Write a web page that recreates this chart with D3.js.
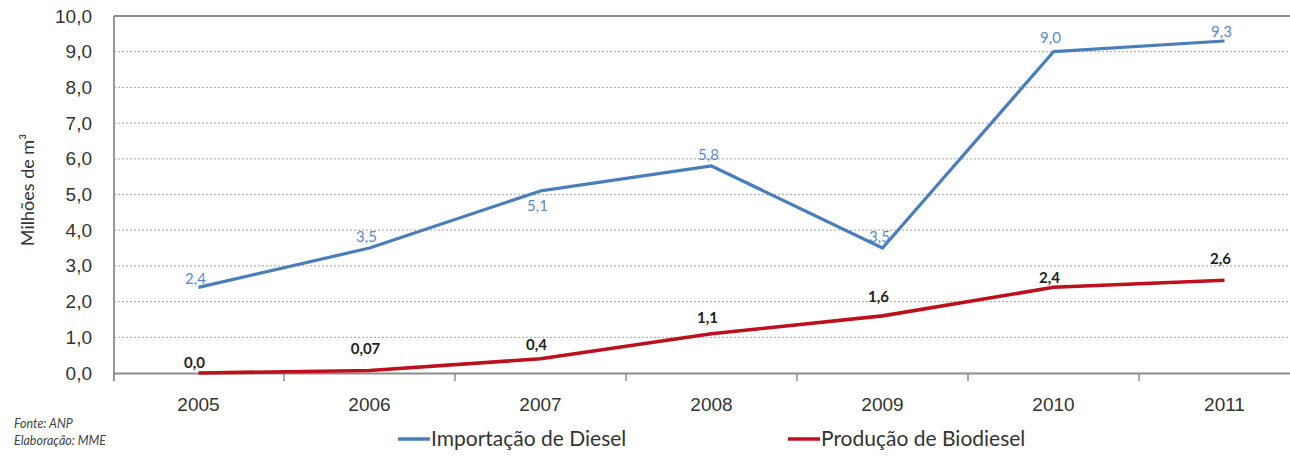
<!DOCTYPE html>
<html>
<head>
<meta charset="utf-8">
<script src="https://cdn.jsdelivr.net/npm/d3@7"></script>
<style>
  html, body { margin: 0; padding: 0; background: #fff; }
  svg { display: block; }
</style>
</head>
<body>
<script>
// Years on the category axis
const years = ["2005", "2006", "2007", "2008", "2009", "2010", "2011"];
// Diesel imports, millions of m³
const importacaoDiesel = [2.4, 3.5, 5.1, 5.8, 3.5, 9.0, 9.3];
// Biodiesel production, millions of m³
const producaoBiodiesel = [0.0, 0.07, 0.4, 1.1, 1.6, 2.4, 2.6];
// Printed value labels
const importacaoLabels = ["2,4", "3,5", "5,1", "5,8", "3,5", "9,0", "9,3"];
const producaoLabels = ["0,0", "0,07", "0,4", "1,1", "1,6", "2,4", "2,6"];
// Y axis ticks
const yTicks = [0, 1, 2, 3, 4, 5, 6, 7, 8, 9, 10];
const seriesNames = ["Importação de Diesel", "Produção de Biodiesel"];
const sourceLines = ["Fonte: ANP", "Elaboração: MME"];

// Vertical nudges for value labels (px, relative to the point)
const importacaoLabelDy = [-9, -11, 15, -11, -11, -14, -9];
const producaoLabelDy = [-10, -22, -14, -16, -19, -10, -21];

const W = 1290, H = 456;
const plotLeft = 114, plotTop = 16, plotBottom = 373;
const step = 171;

const svg = d3.select("body").append("svg")
  .attr("width", W).attr("height", H)
  .style("font-family", "Lato, 'Open Sans', sans-serif");

const x = d3.scaleBand().domain(years).range([113, 113 + step * years.length]);
const y = d3.scaleLinear().domain([0, 10]).range([plotBottom, plotTop]);
const cx = d => x(d) + x.bandwidth() / 2;

// Dotted horizontal gridlines
svg.append("g").selectAll("line")
  .data(yTicks.filter(t => t > 0 && t < 10))
  .join("line")
  .attr("x1", plotLeft).attr("x2", W)
  .attr("y1", d => y(d)).attr("y2", d => y(d))
  .attr("stroke", "#b4b4b4").attr("stroke-width", 1.3)
  .attr("stroke-dasharray", "2,2");

// Top border of the plot area
svg.append("line")
  .attr("x1", plotLeft).attr("x2", W)
  .attr("y1", y(10)).attr("y2", y(10))
  .attr("stroke", "#8c8c8c").attr("stroke-width", 2.2);

// Y axis
const yAxis = svg.append("g")
  .attr("transform", `translate(${plotLeft},0)`)
  .call(d3.axisLeft(y).tickValues(yTicks).tickSize(0).tickPadding(22)
    .tickFormat(d => d3.format(".1f")(d).replace(".", ",")));
yAxis.select(".domain").attr("stroke", "#8c8c8c").attr("stroke-width", 1.8)
  .attr("d", `M0,${plotTop}V${plotBottom + 8}`);
yAxis.selectAll("text").attr("font-size", 19).attr("fill", "#333");

// X axis
const xAxis = svg.append("g")
  .attr("transform", `translate(0,${plotBottom})`)
  .call(d3.axisBottom(x).tickSize(0).tickPadding(25));
xAxis.select(".domain").attr("stroke", "#8c8c8c").attr("stroke-width", 1.8);
xAxis.selectAll("text").attr("font-size", 19).attr("fill", "#333");
// Category separator ticks
xAxis.append("g").selectAll("line")
  .data(years.slice(1))
  .join("line")
  .attr("x1", d => x(d)).attr("x2", d => x(d))
  .attr("y1", 0).attr("y2", 8)
  .attr("stroke", "#8c8c8c").attr("stroke-width", 1.5);

// Y axis title
svg.append("text")
  .attr("transform", "translate(28,190) rotate(-90)")
  .attr("text-anchor", "middle")
  .attr("dy", "0.35em")
  .attr("font-size", 18).attr("fill", "#333")
  .text("Milhões de m³");

const line = d3.line().x((d, i) => cx(years[i])).y(d => y(d));

// Diesel imports line
svg.append("path")
  .datum(importacaoDiesel)
  .attr("d", line)
  .attr("fill", "none")
  .attr("stroke", "#4a7ebb").attr("stroke-width", 3.2)
  .attr("stroke-linejoin", "round");

// Biodiesel production line
svg.append("path")
  .datum(producaoBiodiesel)
  .attr("d", line)
  .attr("fill", "none")
  .attr("stroke", "#bd101c").attr("stroke-width", 3.6)
  .attr("stroke-linejoin", "round");

// Value labels
svg.append("g").selectAll("text")
  .data(importacaoDiesel)
  .join("text")
  .attr("x", (d, i) => cx(years[i]) - 3)
  .attr("y", (d, i) => y(d) + importacaoLabelDy[i])
  .attr("dy", "0.35em")
  .attr("text-anchor", "middle")
  .attr("font-size", 15).attr("fill", "#5a8ac6")
  .text((d, i) => importacaoLabels[i]);

svg.append("g").selectAll("text")
  .data(producaoBiodiesel)
  .join("text")
  .attr("x", (d, i) => cx(years[i]) - 4)
  .attr("y", (d, i) => y(d) + producaoLabelDy[i])
  .attr("dy", "0.35em")
  .attr("text-anchor", "middle")
  .attr("font-size", 15).attr("font-weight", "bold").attr("fill", "#222")
  .text((d, i) => producaoLabels[i]);

// Legend
const legendColors = ["#4a7ebb", "#bd101c"];
const legendX = [398, 788];
const legend = svg.append("g").selectAll("g")
  .data(seriesNames)
  .join("g")
  .attr("transform", (d, i) => `translate(${legendX[i]},439)`);
legend.append("line")
  .attr("x1", 0).attr("x2", 32).attr("y1", 0).attr("y2", 0)
  .attr("stroke", (d, i) => legendColors[i]).attr("stroke-width", 3.5);
legend.append("text")
  .attr("x", 33).attr("dy", "0.35em")
  .attr("font-size", 21).attr("fill", "#333")
  .text(d => d);

// Source notes
svg.append("g").selectAll("text")
  .data(sourceLines)
  .join("text")
  .attr("x", 14).attr("y", (d, i) => 428 + i * 17)
  .attr("font-size", 12.5).attr("font-style", "italic").attr("fill", "#444")
  .text(d => d);
</script>
</body>
</html>
